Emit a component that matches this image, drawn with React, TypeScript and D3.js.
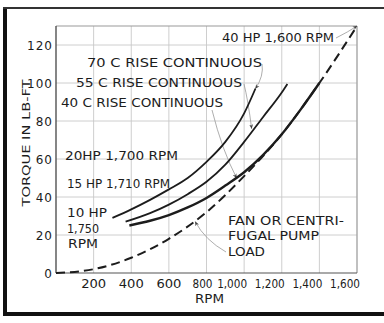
import React from 'react';
import * as d3 from 'd3';

// RPM / torque readings taken from the chart
const fanRpm = [0, 200, 400, 600, 800, 1000, 1200, 1400, 1600];
const fanTorque = [0, 2, 8, 18, 32, 51, 73, 100, 130];

const rise70Rpm = [300, 400, 500, 600, 700, 800, 900, 1000, 1060];
const rise70Torque = [29, 33.5, 38.5, 44, 50, 58.5, 69, 84, 97];

const rise55Rpm = [370, 500, 600, 700, 800, 900, 1000, 1100, 1200, 1230];
const rise55Torque = [27, 31.5, 36, 41.5, 48, 57, 69, 82, 95, 99.5];

const rise40Rpm = [390, 500, 600, 700, 800, 900, 1000, 1100, 1200, 1300, 1400];
const rise40Torque = [25, 27.5, 30.5, 34.5, 39.5, 46, 53, 62, 73, 86, 100];

const xTicks = [200, 400, 600, 800, 1000, 1200, 1400, 1600];
const xTickLabels = ['200', '400', '600', '800', '1,000', '1,200', '1,400', '1,600'];
const yTicks = [0, 20, 40, 60, 80, 100, 120];

const W = 384;
const H = 323;
const ink = '#1c1c1c';
const font = 'DejaVu Sans, sans-serif';

const zip = (xs: number[], ys: number[]) => xs.map((x, i) => [x, ys[i]] as [number, number]);

const App = () => {
  const x = d3.scaleLinear().domain([0, 1600]).range([56, 357]);
  const y = d3.scaleLinear().domain([0, 130]).range([273, 26]);

  const line = d3
    .line<[number, number]>()
    .x((d) => x(d[0]))
    .y((d) => y(d[1]))
    .curve(d3.curveMonotoneX);

  // leader lines: text end (px) -> point on a curve (data units)
  const leaders = [
    { from: [262, 64], via: [264, 76], to: [1060, 97] },
    { from: [244, 84], via: [248, 100], to: [1040, 76] },
    { from: [212, 110], via: [222, 150], to: [960, 50] },
    { from: [226, 252], via: [205, 240], to: [740, 27] },
    { from: [336, 38], via: [348, 32], to: [1600, 130] },
  ];

  const labels = [
    { t: '40 HP 1,600 RPM', x: 222, y: 42, w: 112 },
    { t: '70 C RISE CONTINUOUS', x: 87, y: 67, w: 175 },
    { t: '55 C RISE CONTINUOUS', x: 76, y: 87, w: 166 },
    { t: '40 C RISE CONTINUOUS', x: 61, y: 107, w: 162 },
    { t: '20HP 1,700 RPM', x: 65, y: 160, w: 113 },
    { t: '15 HP 1,710 RPM', x: 67, y: 188, w: 103 },
    { t: '10 HP', x: 67, y: 217, w: 40 },
    { t: '1,750', x: 67, y: 233, w: 32 },
    { t: 'RPM', x: 68, y: 248, w: 30 },
    { t: 'FAN OR CENTRI-', x: 228, y: 225, w: 116 },
    { t: 'FUGAL PUMP', x: 228, y: 240, w: 91 },
    { t: 'LOAD', x: 228, y: 256, w: 37 },
  ];

  return (
    <svg
      width={W}
      height={H}
      style={{ position: 'absolute', left: 0, top: 0, background: '#fff' }}
    >
      <defs>
        <marker id="arr" viewBox="0 0 10 10" refX="9" refY="5" markerWidth="6" markerHeight="6" orient="auto">
          <path d="M0,1 L10,5 L0,9 L3,5 Z" fill="#444" />
        </marker>
      </defs>

      {/* outer scan border */}
      <rect x={3} y={7} width={4} height={309} fill="#111" />
      <rect x={3} y={7} width={W - 3} height={2} fill="#333" />
      <rect x={3} y={312} width={W - 3} height={4} fill="#111" />

      {/* grid */}
      {xTicks.map((v) => (
        <line key={'gx' + v} x1={x(v)} x2={x(v)} y1={y(130)} y2={y(0)} stroke="#c8c8c8" strokeWidth={0.9} />
      ))}
      {yTicks.slice(1).map((v) => (
        <line key={'gy' + v} x1={x(0)} x2={x(1600)} y1={y(v)} y2={y(v)} stroke="#c8c8c8" strokeWidth={0.9} />
      ))}
      <line x1={x(0)} x2={x(1600)} y1={y(130)} y2={y(130)} stroke="#999" strokeWidth={1} />
      <line x1={x(1600)} x2={x(1600)} y1={y(130)} y2={y(0)} stroke="#999" strokeWidth={1} />
      <line x1={x(0)} x2={x(0)} y1={y(130)} y2={y(0)} stroke="#444" strokeWidth={1.3} />
      <line x1={x(0)} x2={x(1600)} y1={y(0)} y2={y(0)} stroke="#555" strokeWidth={1.2} />

      {/* y ticks */}
      {yTicks.map((v) => (
        <text key={'yt' + v} x={53} y={y(v) + 4.5} textAnchor="end" fontFamily={font} fontSize={12} letterSpacing={1} fill={ink}>
          {v}
        </text>
      ))}
      {/* x ticks: comma labels hang left of their grid line */}
      {xTicks.map((v, i) => {
        const lab = xTickLabels[i];
        const wide = lab.length > 3;
        return (
          <text
            key={'xt' + v}
            x={wide ? x(v) + 3 : x(v) - (v === 800 ? 4 : 0)}
            y={288}
            textAnchor={wide ? 'end' : 'middle'}
            fontFamily={font}
            fontSize={12}
            fill={ink}
            textLength={wide ? 30 : v === 800 ? 20 : 25}
            lengthAdjust="spacingAndGlyphs"
          >
            {lab}
          </text>
        );
      })}

      <text x={195} y={303} fontFamily={font} fontSize={11.5} fill={ink} textLength={29} lengthAdjust="spacingAndGlyphs">
        RPM
      </text>
      <text
        transform="translate(30,143) rotate(-90)"
        textAnchor="middle"
        fontFamily={font}
        fontSize={11}
        fill={ink}
        textLength={127}
        lengthAdjust="spacingAndGlyphs"
      >
        TORQUE IN LB-FT
      </text>

      {/* leader lines */}
      {leaders.map((l, i) => {
        const tx = x(l.to[0]);
        const ty = y(l.to[1]);
        return (
          <path
            key={'ld' + i}
            d={`M${l.from[0]},${l.from[1]} Q${l.via[0]},${l.via[1]} ${tx},${ty}`}
            fill="none"
            stroke="#999"
            strokeWidth={0.8}
            markerEnd="url(#arr)"
          />
        );
      })}

      {/* curves */}
      <path d={line(zip(fanRpm, fanTorque)) || ''} fill="none" stroke={ink} strokeWidth={2} strokeDasharray="9 5" />
      <path d={line(zip(rise70Rpm, rise70Torque)) || ''} fill="none" stroke={ink} strokeWidth={1.8} />
      <path d={line(zip(rise55Rpm, rise55Torque)) || ''} fill="none" stroke={ink} strokeWidth={1.8} />
      <path d={line(zip(rise40Rpm, rise40Torque)) || ''} fill="none" stroke={ink} strokeWidth={2.4} />

      {/* annotations */}
      {labels.map((l) => (
        <text
          key={l.t}
          x={l.x}
          y={l.y}
          fontFamily={font}
          fontSize={11.5}
          fill={ink}
          textLength={l.w}
          lengthAdjust="spacingAndGlyphs"
        >
          {l.t}
        </text>
      ))}
    </svg>
  );
};

export default App;
